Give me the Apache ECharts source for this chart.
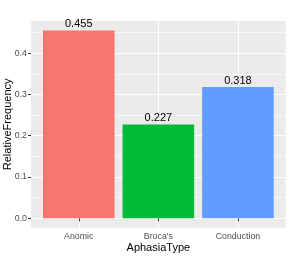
<!DOCTYPE html>
<html><head><meta charset="utf-8">
<script src="https://cdn.jsdelivr.net/npm/echarts@6/dist/echarts.min.js"></script>
<style>html,body{margin:0;padding:0;background:#fff}#c{width:292px;height:259px}</style>
</head><body><div id="c"></div>
<script>
const categories = ["Anomic", "Broca's", "Conduction"];
const values = [0.455, 0.227, 0.318];
const colors = ["#F8766D", "#00BA38", "#619CFF"];
const yTicks = [0, 0.1, 0.2, 0.3, 0.4];
const yMinor = [0.05, 0.15, 0.25, 0.35, 0.45];
const xPos = [1, 2, 3];

const FONT = "Liberation Sans, Arial, sans-serif";
const yMax = Math.max(...values);
const yPad = yMax * 0.05;

const chart = echarts.init(document.getElementById('c'), null, {renderer: 'canvas'});
chart.setOption({
  animation: false,
  textStyle: {fontFamily: FONT},
  grid: {left: 31, right: 6.3, top: 21, bottom: 31.3, show: true, backgroundColor: '#EBEBEB', borderWidth: 0, containLabel: false, outerBoundsMode: 'none'},
  xAxis: {
    type: 'value', min: 0.4, max: 3.6,
    axisLine: {show: false},
    splitLine: {show: false},
    axisTick: {show: true, customValues: xPos, length: 3, lineStyle: {color: '#333333', width: 1}},
    axisLabel: {customValues: xPos, formatter: v => categories[Math.round(v) - 1] || '', color: '#4D4D4D', fontSize: 8.8, margin: 4, fontFamily: FONT},
    name: 'AphasiaType', nameLocation: 'middle', nameGap: 15, nameMoveOverlap: false,
    nameTextStyle: {color: '#000', fontSize: 11, fontFamily: FONT}
  },
  yAxis: {
    type: 'value', min: -yPad, max: yMax + yPad,
    axisLine: {show: false},
    splitLine: {show: false},
    axisTick: {show: true, customValues: yTicks, length: 3, lineStyle: {color: '#333333', width: 1}},
    axisLabel: {customValues: yTicks, formatter: v => v.toFixed(1), color: '#4D4D4D', fontSize: 8.8, margin: 4, fontFamily: FONT},
    name: 'RelativeFrequency', nameLocation: 'middle', nameGap: 18, nameMoveOverlap: false,
    nameTextStyle: {color: '#000', fontSize: 11, fontFamily: FONT}
  },
  series: [
    {
      type: 'line', data: [], z: 0, silent: true,
      markLine: {
        silent: true, symbol: 'none', label: {show: false}, animation: false, z: 0,
        data: [
          ...yMinor.map(v => ({yAxis: v, lineStyle: {color: '#fff', width: 0.6, type: 'solid'}})),
          ...yTicks.map(v => ({yAxis: v, lineStyle: {color: '#fff', width: 1.1, type: 'solid'}})),
          ...xPos.map(v => ({xAxis: v, lineStyle: {color: '#fff', width: 1.1, type: 'solid'}}))
        ]
      }
    },
    {
      type: 'bar', z: 3, barWidth: 71.6,
      data: values.map((v, i) => ({value: [xPos[i], v], itemStyle: {color: colors[i]}})),
      label: {show: true, position: 'top', distance: 1, color: '#000', fontSize: 11, fontFamily: FONT, formatter: p => p.value[1].toFixed(3)}
    }
  ]
});
</script></body></html>
